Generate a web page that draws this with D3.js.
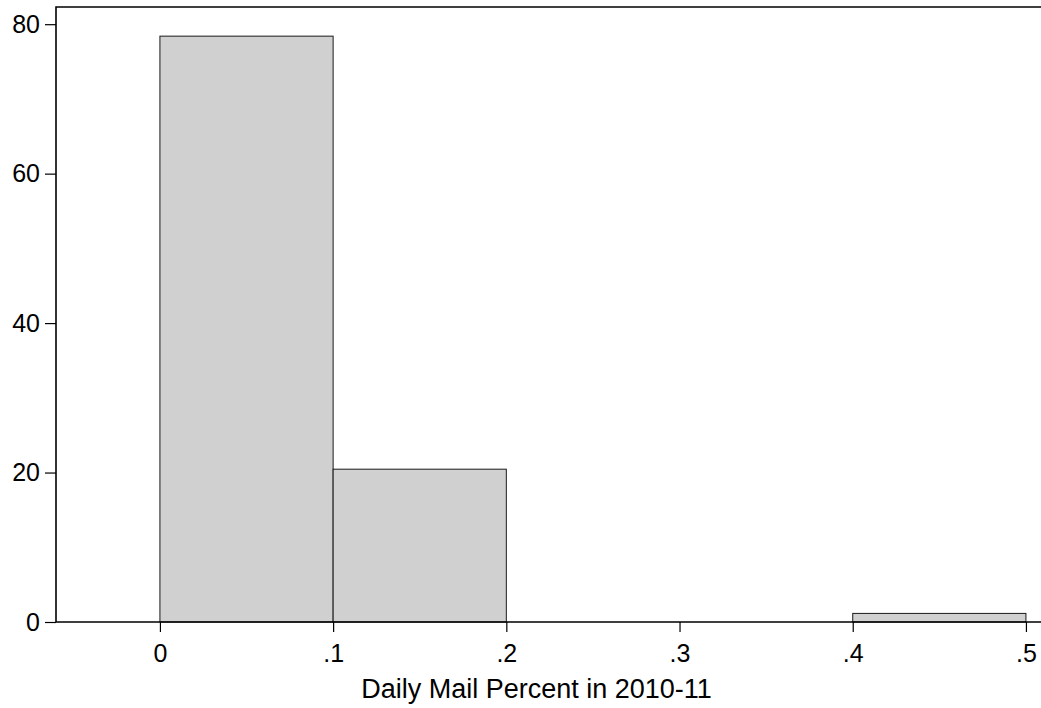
<!DOCTYPE html>
<html>
<head>
<meta charset="utf-8">
<script src="https://cdn.jsdelivr.net/npm/d3@7"></script>
<style>
  body { margin: 0; background: #fff; }
  text { font-family: "Liberation Sans", Arial, sans-serif; fill: #000; }
</style>
</head>
<body>
<div id="chart"></div>
<script>
// histogram bins (start of bin, width .1) and percent in each
var binStarts = [0, 0.1, 0.2, 0.3, 0.4];
var binPercent = [78.4, 20.45, 0, 0, 1.15];
var xTicks = [0, 0.1, 0.2, 0.3, 0.4, 0.5];
var xTickLabels = ["0", ".1", ".2", ".3", ".4", ".5"];
var yTicks = [0, 20, 40, 60, 80];
var xTitle = "Daily Mail Percent in 2010-11";
var binWidth = 0.1;

var width = 1041, height = 708;
var margin = {top: 7, right: 0, bottom: 86, left: 56};

var svg = d3.select("#chart").append("svg")
    .attr("width", width)
    .attr("height", height);

var x = d3.scaleLinear()
    .domain([-0.06, 0.5087])
    .range([margin.left, width - margin.right]);

var y = d3.scaleLinear()
    .domain([0, 82.3])
    .range([height - margin.bottom, margin.top]);

var bins = binStarts.map(function (d, i) { return {x0: d, x1: d + binWidth, v: binPercent[i]}; })
    .filter(function (d) { return d.v > 0; });

svg.selectAll("rect.bar").data(bins)
    .enter().append("rect")
    .attr("class", "bar")
    .attr("x", function (d) { return x(d.x0); })
    .attr("y", function (d) { return y(d.v); })
    .attr("width", function (d) { return x(d.x1) - x(d.x0); })
    .attr("height", function (d) { return y(0) - y(d.v); })
    .attr("fill", "#d0d0d0")
    .attr("stroke", "#1a1a1a")
    .attr("stroke-width", 1);

// frame: left, top, bottom
svg.append("path")
    .attr("d", "M" + (width + 2) + "," + y.range()[1] + "H" + x.range()[0] + "V" + y.range()[0] + "H" + (width + 2))
    .attr("fill", "none")
    .attr("stroke", "#000")
    .attr("stroke-width", 1.6);

var yAxis = svg.append("g")
    .attr("transform", "translate(" + margin.left + ",0)")
    .call(d3.axisLeft(y).tickValues(yTicks).tickSize(11).tickPadding(5));

var xAxis = svg.append("g")
    .attr("transform", "translate(0," + y(0) + ")")
    .call(d3.axisBottom(x).tickValues(xTicks).tickSize(10).tickPadding(12)
        .tickFormat(function (d, i) { return xTickLabels[i]; }));

[yAxis, xAxis].forEach(function (g) {
    g.select(".domain").remove();
    g.selectAll(".tick line").attr("stroke", "#000").attr("stroke-width", 1.2);
    g.selectAll(".tick text").style("font-size", "25px")
        .style("font-family", "'Liberation Sans', Arial, sans-serif");
});

svg.append("text")
    .attr("x", (x.range()[0] + x.range()[1]) / 2 - 12)
    .attr("y", 698)
    .attr("text-anchor", "middle")
    .style("font-size", "27px")
    .text(xTitle);
</script>
</body>
</html>
